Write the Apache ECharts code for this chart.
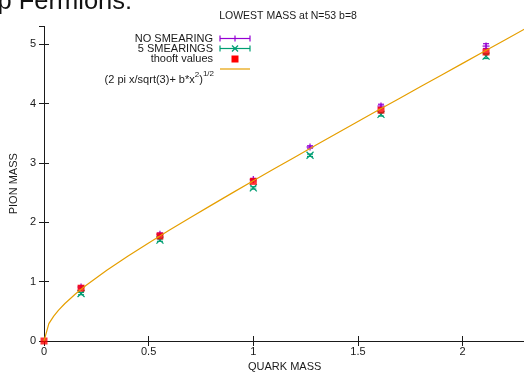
<!DOCTYPE html>
<html>
<head>
<meta charset="utf-8">
<script src="https://cdn.jsdelivr.net/npm/echarts@6/dist/echarts.min.js"></script>
<style>
  html, body { margin: 0; padding: 0; background: #fff; }
  #chart { width: 524px; height: 372px; }
</style>
</head>
<body>
<div id="chart"></div>
<script>
// Lowest pion mass against quark mass, N=53, b=8
const quarkMass     = [0.177, 0.554, 1.0, 1.271, 1.61, 2.112];
const noSmearing    = [0.91, 1.80, 2.72, 3.27, 3.96, 4.97];
const noSmearingErr = [0.02, 0.02, 0.02, 0.02, 0.03, 0.04];
const fiveSmearings    = [0.80, 1.70, 2.58, 3.13, 3.82, 4.80];
const fiveSmearingsErr = [0.02, 0.02, 0.02, 0.02, 0.03, 0.04];
const thooftMass   = [0, 0.177, 0.554, 1.0, 1.61, 2.112];
const thooftValues = [0, 0.89, 1.77, 2.69, 3.89, 4.87];

// fit curve (2 pi x/sqrt(3) + b x^2)^(1/2), sampled
const fitX = [0, 0.0232, 0.0465, 0.0697, 0.1, 0.15, 0.2, 0.3, 0.4, 0.5, 0.6, 0.7, 0.8, 0.9, 1.0,
              1.1, 1.2, 1.3, 1.4, 1.5, 1.6, 1.7, 1.8, 1.9, 2.0, 2.1, 2.2, 2.3];
const fitY = [0, 0.292, 0.420, 0.520, 0.632, 0.792, 0.934, 1.191, 1.427, 1.652, 1.869, 2.082, 2.290, 2.496, 2.700,
              2.902, 3.102, 3.302, 3.500, 3.698, 3.896, 4.092, 4.288, 4.484, 4.679, 4.874, 5.069, 5.264];

const xTicks = ['0', '0.5', '1', '1.5', '2'];
const yTicks = ['0', '1', '2', '3', '4', '5'];

const FONT = 'Liberation Sans, Arial, Helvetica, sans-serif';
const PURPLE = '#9400d3';
const GREEN = '#009e73';
const RED = '#ff0000';
const ORANGE = '#e69f00';
const INK = '#1a1a1a';

function zip(a, b) { return a.map((v, i) => [v, b[i]]); }

// text width helper for the key's formula pieces
const measureCtx = document.createElement('canvas').getContext('2d');
function textWidth(t, size) { measureCtx.font = size + 'px ' + FONT; return measureCtx.measureText(t).width; }

// point with vertical error bar; marker 'plus' or 'cross'
function errorBarItem(color, marker) {
  return function (params, api) {
    const x = api.value(0), y = api.value(1), e = api.value(2);
    const c = api.coord([x, y]);
    const lo = api.coord([x, y - e]);
    const hi = api.coord([x, y + e]);
    const cap = 3, m = 3.5;
    const style = { stroke: color, lineWidth: 1.2, fill: null };
    const children = [
      { type: 'line', shape: { x1: c[0], y1: lo[1], x2: c[0], y2: hi[1] }, style },
      { type: 'line', shape: { x1: c[0] - cap, y1: lo[1], x2: c[0] + cap, y2: lo[1] }, style },
      { type: 'line', shape: { x1: c[0] - cap, y1: hi[1], x2: c[0] + cap, y2: hi[1] }, style }
    ];
    if (marker === 'plus') {
      children.push({ type: 'line', shape: { x1: c[0] - m, y1: c[1], x2: c[0] + m, y2: c[1] }, style });
      children.push({ type: 'line', shape: { x1: c[0], y1: c[1] - m, x2: c[0], y2: c[1] + m }, style });
    } else {
      children.push({ type: 'line', shape: { x1: c[0] - m, y1: c[1] - m, x2: c[0] + m, y2: c[1] + m }, style });
      children.push({ type: 'line', shape: { x1: c[0] - m, y1: c[1] + m, x2: c[0] + m, y2: c[1] - m }, style });
    }
    return { type: 'group', children };
  };
}

const axisCommon = {
  min: 0,
  axisLine: { show: true, lineStyle: { color: INK, width: 1 } },
  axisTick: { show: true, inside: true, length: 5, lineStyle: { color: INK } },
  splitLine: { show: false }
};

// key: text right aligned, sample to the right
const keyTextX = 213, keyX1 = 220, keyX2 = 250;
const keyRows = [38.5, 48.5, 59, 69];
const keyText = (t, y) => ({
  type: 'text', x: keyTextX, y: y,
  style: { text: t, font: '11px ' + FONT, fill: INK, align: 'right', verticalAlign: 'middle' }
});
const keyErr = (y, color, marker) => {
  const s = { stroke: color, lineWidth: 1.2 };
  const mx = (keyX1 + keyX2) / 2, m = 3;
  const items = [
    { type: 'line', shape: { x1: keyX1, y1: y, x2: keyX2, y2: y }, style: s },
    { type: 'line', shape: { x1: keyX1, y1: y - 3, x2: keyX1, y2: y + 3 }, style: s },
    { type: 'line', shape: { x1: keyX2, y1: y - 3, x2: keyX2, y2: y + 3 }, style: s }
  ];
  if (marker === 'plus') {
    items.push({ type: 'line', shape: { x1: mx, y1: y - m, x2: mx, y2: y + m }, style: s });
  } else {
    items.push({ type: 'line', shape: { x1: mx - m, y1: y - m, x2: mx + m, y2: y + m }, style: s });
    items.push({ type: 'line', shape: { x1: mx - m, y1: y + m, x2: mx + m, y2: y - m }, style: s });
  }
  return items;
};

// formula label with superscripts, laid out right to left
function formulaLabel(right, yMain) {
  const parts = [
    { t: '1/2', size: 8, dy: -6 },
    { t: ')', size: 11, dy: 0 },
    { t: '2', size: 8, dy: -4.5 },
    { t: '(2 pi x/sqrt(3)+ b*x', size: 11, dy: 0 }
  ];
  const out = [];
  let x = right;
  parts.forEach(p => {
    out.push({
      type: 'text', x: x, y: yMain + p.dy,
      style: { text: p.t, font: p.size + 'px ' + FONT, fill: INK, align: 'right', verticalAlign: 'middle' }
    });
    x -= textWidth(p.t, p.size);
  });
  return out;
}

const chart = echarts.init(document.getElementById('chart'), null, { renderer: 'canvas' });
chart.setOption({
  animation: false,
  backgroundColor: '#fff',
  title: {
    text: 'LOWEST MASS at N=53 b=8',
    left: 283, top: 6, textAlign: 'center',
    textStyle: { fontFamily: FONT, fontSize: 10.5, fontWeight: 'normal', color: INK }
  },
  grid: { left: 44, right: -1.4, top: 26.5, bottom: 31, containLabel: false, outerBoundsMode: 'none' },
  xAxis: [
    Object.assign({}, axisCommon, {
      type: 'value', max: 2.3, interval: 0.5, position: 'bottom',
      name: 'QUARK MASS', nameLocation: 'middle', nameGap: 17,
      nameTextStyle: { fontFamily: FONT, fontSize: 11, color: INK },
      axisLabel: {
        fontFamily: FONT, fontSize: 11, color: INK, margin: 5, showMaxLabel: false,
        formatter: (v) => { const i = Math.round(v / 0.5); return Math.abs(v - i * 0.5) < 1e-9 ? xTicks[i] : ''; }
      }
    }),
    Object.assign({}, axisCommon, {
      type: 'value', max: 2.3, interval: 0.5, position: 'top',
      axisLabel: { show: false }
    })
  ],
  yAxis: [
    Object.assign({}, axisCommon, {
      type: 'value', max: 5.3, interval: 1, position: 'left',
      name: 'PION MASS', nameLocation: 'middle', nameGap: 25,
      nameTextStyle: { fontFamily: FONT, fontSize: 11, color: INK },
      axisLabel: {
        fontFamily: FONT, fontSize: 11, color: INK, margin: 8, showMaxLabel: false,
        formatter: (v) => { const i = Math.round(v); return Math.abs(v - i) < 1e-9 ? yTicks[i] : ''; }
      }
    }),
    Object.assign({}, axisCommon, {
      type: 'value', max: 5.3, interval: 1, position: 'right',
      axisLabel: { show: false }
    })
  ],
  series: [
    {
      name: 'NO SMEARING', type: 'custom', xAxisIndex: 0, yAxisIndex: 0, clip: false,
      data: quarkMass.map((x, i) => [x, noSmearing[i], noSmearingErr[i]]),
      renderItem: errorBarItem(PURPLE, 'plus'), z: 2
    },
    {
      name: '5 SMEARINGS', type: 'custom', xAxisIndex: 0, yAxisIndex: 0, clip: false,
      data: quarkMass.map((x, i) => [x, fiveSmearings[i], fiveSmearingsErr[i]]),
      renderItem: errorBarItem(GREEN, 'cross'), z: 3
    },
    {
      name: 'thooft values', type: 'scatter', xAxisIndex: 0, yAxisIndex: 0,
      data: zip(thooftMass, thooftValues),
      symbol: 'rect', symbolSize: 7, itemStyle: { color: RED }, z: 4
    },
    {
      name: 'fit', type: 'line', xAxisIndex: 0, yAxisIndex: 0,
      data: zip(fitX, fitY), showSymbol: false, symbol: 'none',
      lineStyle: { color: ORANGE, width: 1.2 }, z: 5
    }
  ],
  graphic: [
    {
      type: 'text', x: -2.5, y: 15,
      style: { text: 'p Fermions:', font: '25.5px ' + FONT, fill: '#111', align: 'left', verticalAlign: 'bottom' }
    },
    keyText('NO SMEARING', keyRows[0]),
    ...keyErr(keyRows[0], PURPLE, 'plus'),
    keyText('5 SMEARINGS', keyRows[1]),
    ...keyErr(keyRows[1], GREEN, 'cross'),
    keyText('thooft values', keyRows[2]),
    { type: 'rect', shape: { x: 231.5, y: keyRows[2] - 3.5, width: 7, height: 7 }, style: { fill: RED } },
    { type: 'line', shape: { x1: keyX1, y1: keyRows[3], x2: keyX2, y2: keyRows[3] }, style: { stroke: ORANGE, lineWidth: 1.2 } },
    ...formulaLabel(214, 79.5)
  ]
});
</script>
</body>
</html>
